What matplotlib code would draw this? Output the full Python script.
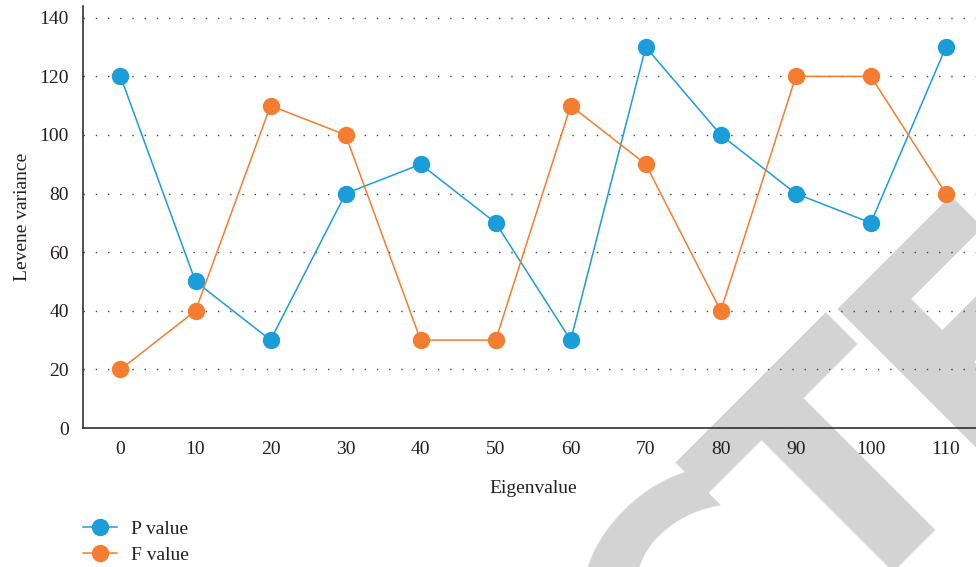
import matplotlib
matplotlib.use("Agg")
import matplotlib.pyplot as plt

# eigenvalue categories and the two Levene series
eigenvalues = [0, 10, 20, 30, 40, 50, 60, 70, 80, 90, 100, 110]
p_values = [120, 50, 30, 80, 90, 70, 30, 130, 100, 80, 70, 130]
f_values = [20, 40, 110, 100, 30, 30, 110, 90, 40, 120, 120, 80]
y_ticks = [0, 20, 40, 60, 80, 100, 120, 140]

BLUE = "#1b9dd9"
ORANGE = "#f47d30"

plt.rcParams["font.family"] = ["Liberation Serif", "DejaVu Serif"]
plt.rcParams["font.size"] = 14

fig = plt.figure(figsize=(9.76, 5.67), dpi=100)
ax = fig.add_axes([0.085, 0.2451, 0.9226, 0.7443])
ax.patch.set_alpha(0)

# grey diagonal stamp behind the plot
stamp = dict(fontsize=228, fontweight="bold", family="DejaVu Sans",
             color="#d3d3d3", rotation=45, rotation_mode="anchor",
             ha="center", va="baseline", zorder=-5)
fig.text(0.788, -0.204, "C", **stamp)
fig.text(0.9365, 0.030, "T", **stamp)
fig.text(1.075, 0.300, "E", **stamp)

x = list(range(len(eigenvalues)))
ax.plot(x, p_values, color=BLUE, lw=1.1, marker="o", ms=11.5,
        label="P value", zorder=3)
ax.plot(x, f_values, color=ORANGE, lw=1.1, marker="o", ms=11.5,
        label="F value", zorder=3)

ax.set_xlim(-0.5, len(eigenvalues) - 0.5)
ax.set_ylim(0, 144)
ax.set_xticks(x)
ax.set_xticklabels([str(v) for v in eigenvalues])
ax.set_yticks(y_ticks)
ax.tick_params(length=0, colors="#231f20")
ax.tick_params(axis="x", pad=9)
ax.tick_params(axis="y", pad=10)

ax.yaxis.grid(True, color="#444444", lw=1.0, linestyle=(0, (1, 7.8)))
ax.set_axisbelow(True)
for side in ("top", "right"):
    ax.spines[side].set_visible(False)
for side in ("left", "bottom"):
    ax.spines[side].set_color("#231f20")
    ax.spines[side].set_linewidth(1.1)

ax.set_xlabel("Eigenvalue", color="#231f20", labelpad=16)
ax.set_ylabel("Levene variance", color="#231f20", labelpad=6)

ax.legend(loc="upper left", bbox_to_anchor=(0.085, 1 - 520 / 567),
          bbox_transform=fig.transFigure, frameon=False, borderpad=0,
          borderaxespad=0, handlelength=1.75, handletextpad=0.72,
          labelspacing=0.45, labelcolor="#231f20")

fig.savefig("out.png", dpi=100)
